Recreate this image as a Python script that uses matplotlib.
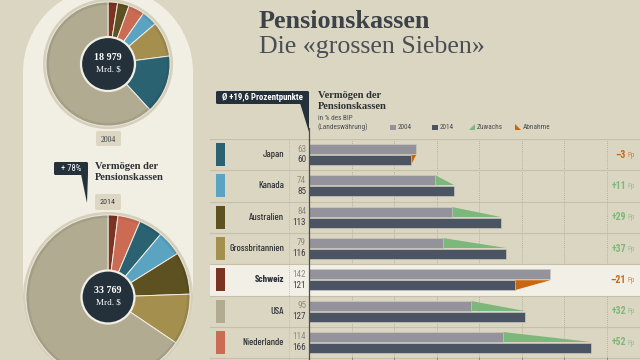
import matplotlib
matplotlib.use("Agg")
import matplotlib.pyplot as plt
from matplotlib.patches import Circle, Rectangle, FancyBboxPatch, Polygon, Wedge

# ---------------- data ----------------
countries = ["Japan", "Kanada", "Australien", "Grossbritannien", "Schweiz", "USA", "Niederlande"]
v2004 = [63, 74, 84, 79, 142, 95, 114]
v2014 = [60, 85, 113, 116, 121, 127, 166]
change = [-3, 11, 29, 37, -21, 32, 52]
country_colors = ["#2b6272", "#5aa3c1", "#5e5121", "#a58f4e", "#7b3322", "#b1ab91", "#cc6b54"]

pie04_names = ["Schweiz", "Australien", "Niederlande", "Kanada", "Grossbritannien", "Japan", "USA"]
pie04_vals = [474, 575, 796, 770, 1739, 2899, 11726]
pie14_names = ["Schweiz", "Niederlande", "Japan", "Kanada", "Australien", "Grossbritannien", "USA"]
pie14_vals = [657, 1500, 1596, 1688, 2814, 3377, 22137]
pie_totals = ["18 979", "33 769"]
pie_years = ["2004", "2014"]
grid_ticks = [25, 50, 75, 100, 125, 150, 175]

# ---------------- style ----------------
BG = "#dbd6c2"
PANEL = "#f1eee4"
DARK = "#24313b"
RING = "#d6d0bb"
GRAY04 = "#94939b"
DARK14 = "#4a5462"
GREEN = "#7cb87c"
ORANGE = "#c96710"
SERIF = ["Liberation Serif", "DejaVu Serif"]
LABEL = ["Barlow Condensed", "Roboto Condensed", "Liberation Sans", "DejaVu Sans"]
NARROW = ["Roboto Condensed", "Liberation Sans", "DejaVu Sans"]
SANS = ["Roboto Condensed", "Liberation Sans", "DejaVu Sans"]
cmap = dict(zip(countries, country_colors))

fig = plt.figure(figsize=(6.4, 3.6), dpi=100, facecolor=BG)

# background / decoration axes in pixel coordinates
bg = fig.add_axes([0, 0, 1, 1], zorder=0)
bg.set_xlim(0, 640)
bg.set_ylim(360, 0)
bg.axis("off")

# left panel (stadium shape)
bg.add_patch(Circle((108, 72), 85, fc=PANEL, ec="none"))
bg.add_patch(Rectangle((23, 72), 170, 225, fc=PANEL, ec="none"))
bg.add_patch(Circle((108, 297), 85, fc=PANEL, ec="none"))

# year tabs
bg.add_patch(FancyBboxPatch((96, 131), 25, 15, boxstyle="round,pad=0,rounding_size=2", fc="#dcd6c2", ec="none"))
bg.text(108.5, 139.5, pie_years[0], ha="center", va="center", fontsize=5.6, family=SERIF, color="#3a3e44")
bg.add_patch(FancyBboxPatch((95, 194), 26, 16, boxstyle="round,pad=0,rounding_size=2", fc="#dcd6c2", ec="none"))
bg.text(108, 202, pie_years[1], ha="center", va="center", fontsize=5.8, family=SANS, color="#3a3e44")

# +78% callout
bg.add_patch(FancyBboxPatch((54, 162), 34, 13, boxstyle="round,pad=0,rounding_size=1.5", fc=DARK, ec="none"))
bg.add_patch(Polygon([(81, 174), (88, 174), (87, 203)], closed=True, fc=DARK, ec="none"))
bg.text(71, 168.5, "+ 78%", ha="center", va="center", fontsize=6.2, family=SANS, color="white")
bg.text(95, 169, "Vermögen der", ha="left", va="baseline", fontsize=7.6, family=SERIF, weight="bold", color="#2c3035")
bg.text(95, 180, "Pensionskassen", ha="left", va="baseline", fontsize=7.6, family=SERIF, weight="bold", color="#2c3035")

# titles
bg.text(259, 28, "Pensionskassen", ha="left", va="baseline", fontsize=18.8, family=SERIF, weight="bold", color="#3d4248")
bg.text(259, 53, "Die «grossen Sieben»", ha="left", va="baseline", fontsize=18.6, family=SERIF, color="#4a4f55")

# Ø callout
bg.add_patch(FancyBboxPatch((216, 91), 93, 13, boxstyle="round,pad=0,rounding_size=1.5", fc=DARK, ec="none"))
bg.add_patch(Polygon([(300, 103), (309, 103), (309, 132)], closed=True, fc=DARK, ec="none"))
bg.text(262.5, 97.5, "Ø +19,6 Prozentpunkte", ha="center", va="center", fontsize=6.4, family=NARROW, weight="bold", color="white")
bg.plot([309, 309], [128, 140], color="#4e4e4e", lw=0.9)

bg.text(318, 98, "Vermögen der", ha="left", va="baseline", fontsize=7.6, family=SERIF, weight="bold", color="#2c3035")
bg.text(318, 109, "Pensionskassen", ha="left", va="baseline", fontsize=7.6, family=SERIF, weight="bold", color="#2c3035")
bg.text(318, 118.5, "in % des BIP", ha="left", va="center", fontsize=5.2, family=SANS, color="#4a4e53")
bg.text(318, 127.5, "(Landeswährung)", ha="left", va="center", fontsize=5.2, family=SANS, color="#4a4e53")

# legend
bg.add_patch(Rectangle((390, 124.5), 5.5, 5.5, fc=GRAY04, ec="none"))
bg.text(398, 127.5, "2004", ha="left", va="center", fontsize=5.2, family=SANS, color="#4a4e53")
bg.add_patch(Rectangle((432, 124.5), 5.5, 5.5, fc=DARK14, ec="none"))
bg.text(440, 127.5, "2014", ha="left", va="center", fontsize=5.2, family=SANS, color="#4a4e53")
bg.add_patch(Polygon([(469, 130), (475, 130), (475, 124)], closed=True, fc=GREEN, ec="none"))
bg.text(477, 127.5, "Zuwachs", ha="left", va="center", fontsize=5.2, family=SANS, color="#4a4e53")
bg.add_patch(Polygon([(515, 124), (515, 130), (521, 130)], closed=True, fc=ORANGE, ec="none"))
bg.text(523, 127.5, "Abnahme", ha="left", va="center", fontsize=5.2, family=SANS, color="#4a4e53")


# ---------------- pies ----------------
def draw_pie(cx, cy, r_px, ring_px, inner_px, names, vals, total):
    half = ring_px + 6
    fy = 360 - cy
    pa = fig.add_axes([(cx - half) / 640, (fy - half) / 360, 2 * half / 640, 2 * half / 360], zorder=1)
    pa.set_facecolor("none")
    pa.add_patch(Circle((0, 0), ring_px / r_px, fc=RING, ec="none", zorder=0))
    pa.pie(vals, colors=[cmap[n] for n in names], startangle=90, counterclock=False, radius=1,
           wedgeprops=dict(edgecolor=PANEL, linewidth=0.7))
    pa.add_patch(Wedge((0, 0), 1, 0, 360, width=3.0 / r_px, fc="black", alpha=0.07, ec="none", zorder=4))
    pa.add_patch(Circle((0, 0), inner_px / r_px, fc=DARK, ec=PANEL, lw=1.6, zorder=5))
    pa.text(0, 6.5 / r_px, total, ha="center", va="center", fontsize=7.2, family=SERIF, weight="bold", color="white", zorder=6)
    pa.text(0, -5.5 / r_px, "Mrd. $", ha="center", va="center", fontsize=6.6, family=SERIF, color="white", zorder=6)
    lim = half / r_px
    pa.set_xlim(-lim, lim)
    pa.set_ylim(-lim, lim)
    pa.set_aspect("equal")
    pa.axis("off")


draw_pie(108, 64, 62, 65, 27, pie04_names, pie04_vals, pie_totals[0])
draw_pie(108, 297, 82, 85, 26.5, pie14_names, pie14_vals, pie_totals[1])

# ---------------- bar chart ----------------
PX = 1.70          # pixels per percentage point
RH = 31.3          # row height in px
ZERO = 309         # pixel x of zero
ax = fig.add_axes([210 / 640, 0, 430 / 640, 221 / 360], zorder=2)
ax.set_facecolor("none")
ax.set_xlim((210 - ZERO) / PX, (640 - ZERO) / PX)
ax.set_ylim(221 / RH, 0)
for s in ax.spines.values():
    s.set_visible(False)

n = len(countries)
rows = list(range(n))
hi = countries.index("Schweiz")

for g in grid_ticks:
    ax.axvline(g, color="#aaa38c", lw=0.6, ls=(0, (1, 1.5)), zorder=0.5)
ax.axhspan(hi, hi + 1, color="#f2efe6", zorder=0.7, lw=0)
for i in range(n + 1):
    ax.axhline(i, color="#c6c0aa", lw=0.8, zorder=0.8)
ax.axvline((289 - ZERO) / PX, color="#bab49e", lw=0.6, ls=(0, (1, 1.5)), zorder=0.8)

bh = 10 / RH
y04 = [i + 10 / RH for i in rows]
y14 = [i + 21 / RH for i in rows]
ax.barh(y04, v2004, height=bh, color=GRAY04, edgecolor="#ccc8bc", linewidth=0.5, zorder=3)
ax.barh(y14, v2014, height=bh, color=DARK14, edgecolor="#ccc8bc", linewidth=0.5, zorder=3)

for i in rows:
    a, b = v2004[i], v2014[i]
    if b >= a:
        ax.fill([a, a, b], [y04[i] - bh / 2, y04[i] + bh / 2, y04[i] + bh / 2], color=GREEN, lw=0, zorder=2.5)
    else:
        ax.fill([b, b, a], [y14[i] - bh / 2, y14[i] + bh / 2, y14[i] - bh / 2], color=ORANGE, lw=0, zorder=2.5)

ax.axvline(0, color="#4e4e4e", lw=0.9, zorder=4)

for i, c in enumerate(countries):
    ax.add_patch(Rectangle(((216 - ZERO) / PX, i + 4 / RH), 9 / PX, 23 / RH, fc=country_colors[i], ec="none", zorder=3))
    ax.text((284 - ZERO) / PX, i + 0.5, c, ha="right", va="center", fontsize=7.2, family=LABEL,
            weight="bold" if i == hi else "medium", color="#2f3338", clip_on=False)
    ax.text((306 - ZERO) / PX, y04[i], str(v2004[i]), ha="right", va="center", fontsize=6.6, family=NARROW,
            color="#8f8b80", clip_on=False)
    ax.text((306 - ZERO) / PX, y14[i], str(v2014[i]), ha="right", va="center", fontsize=6.6, family=NARROW,
            color="#3a3e44", clip_on=False)
    col = GREEN if change[i] > 0 else ORANGE
    lab = ("+%d" % change[i]) if change[i] > 0 else ("–%d" % abs(change[i]))
    ax.text((626 - ZERO) / PX, i + 0.5, lab, ha="right", va="center", fontsize=7.0, family=NARROW,
            weight="bold", color=col, clip_on=False)
    ax.text((627.5 - ZERO) / PX, i + 0.52, "Pp", ha="left", va="center", fontsize=5.0, family=NARROW,
            color=col, alpha=0.75, clip_on=False)

ax.set_xticks(grid_ticks)
ax.set_yticks([])
ax.tick_params(axis="x", direction="in", length=2.5, width=0.6, color="#8a8575", labelbottom=False)

fig.savefig("out.png", dpi=100, facecolor=BG)
